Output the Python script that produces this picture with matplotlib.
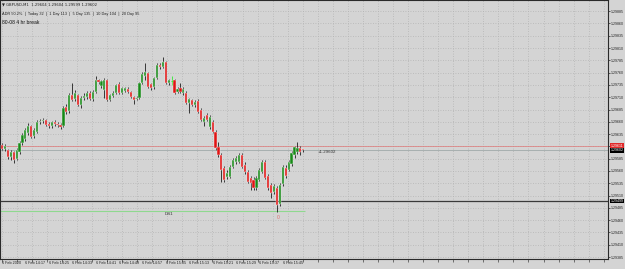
import numpy as np
import matplotlib
matplotlib.use("Agg")
import matplotlib.pyplot as plt

plt.rcParams["font.family"] = ["Liberation Sans", "DejaVu Sans"]

# ---------------- data (GBPUSD M1, 6 Feb 2020 14:09 .. 15:52) ----------------
opens = [1.29613, 1.29605, 1.29603, 1.29589, 1.29599, 1.29584, 1.29599, 1.29617, 1.29625, 1.29637,
         1.29652, 1.29631, 1.29639, 1.29660, 1.29662, 1.29664, 1.29656, 1.29652, 1.29660, 1.29656,
         1.29654, 1.29652, 1.29690, 1.29682, 1.29715, 1.29706, 1.29715, 1.29694, 1.29708, 1.29710,
         1.29719, 1.29706, 1.29721, 1.29745, 1.29733, 1.29725, 1.29745, 1.29704, 1.29712, 1.29719,
         1.29737, 1.29719, 1.29723, 1.29727, 1.29721, 1.29710, 1.29706, 1.29708, 1.29739, 1.29753,
         1.29759, 1.29737, 1.29731, 1.29749, 1.29775, 1.29771, 1.29782, 1.29739, 1.29743, 1.29745,
         1.29721, 1.29729, 1.29719, 1.29719, 1.29698, 1.29704, 1.29694, 1.29702, 1.29684, 1.29660,
         1.29674, 1.29649, 1.29660, 1.29639, 1.29609, 1.29593, 1.29566, 1.29548, 1.29548, 1.29568,
         1.29578, 1.29578, 1.29593, 1.29572, 1.29558, 1.29546, 1.29542, 1.29526, 1.29542, 1.29558,
         1.29578, 1.29550, 1.29532, 1.29517, 1.29526, 1.29493, 1.29534, 1.29566, 1.29562, 1.29574,
         1.29593, 1.29599, 1.29607, 1.29604]
closes = [1.29605, 1.29611, 1.29589, 1.29599, 1.29582, 1.29603, 1.29617, 1.29633, 1.29643, 1.29652,
          1.29629, 1.29643, 1.29660, 1.29662, 1.29664, 1.29654, 1.29652, 1.29660, 1.29656, 1.29654,
          1.29649, 1.29688, 1.29680, 1.29715, 1.29704, 1.29719, 1.29694, 1.29708, 1.29712, 1.29719,
          1.29706, 1.29721, 1.29745, 1.29741, 1.29743, 1.29745, 1.29704, 1.29715, 1.29719, 1.29735,
          1.29719, 1.29729, 1.29729, 1.29721, 1.29710, 1.29704, 1.29708, 1.29739, 1.29757, 1.29761,
          1.29731, 1.29729, 1.29749, 1.29775, 1.29771, 1.29782, 1.29739, 1.29745, 1.29743, 1.29719,
          1.29727, 1.29721, 1.29727, 1.29698, 1.29706, 1.29694, 1.29700, 1.29680, 1.29664, 1.29668,
          1.29664, 1.29670, 1.29639, 1.29607, 1.29593, 1.29562, 1.29542, 1.29556, 1.29568, 1.29582,
          1.29586, 1.29593, 1.29568, 1.29558, 1.29538, 1.29536, 1.29526, 1.29546, 1.29562, 1.29578,
          1.29546, 1.29526, 1.29515, 1.29530, 1.29491, 1.29532, 1.29568, 1.29550, 1.29578, 1.29597,
          1.29609, 1.29607, 1.29599, 1.29602]
highs = [1.29617, 1.29615, 1.29605, 1.29603, 1.29601, 1.29607, 1.29621, 1.29637, 1.29647, 1.29658,
         1.29654, 1.29647, 1.29664, 1.29666, 1.29668, 1.29666, 1.29660, 1.29662, 1.29664, 1.29660,
         1.29658, 1.29692, 1.29696, 1.29719, 1.29739, 1.29725, 1.29717, 1.29712, 1.29719, 1.29723,
         1.29723, 1.29725, 1.29753, 1.29747, 1.29745, 1.29749, 1.29747, 1.29717, 1.29723, 1.29737,
         1.29741, 1.29731, 1.29731, 1.29731, 1.29723, 1.29712, 1.29712, 1.29741, 1.29761, 1.29780,
         1.29761, 1.29739, 1.29751, 1.29780, 1.29780, 1.29792, 1.29784, 1.29747, 1.29753, 1.29747,
         1.29731, 1.29739, 1.29731, 1.29723, 1.29708, 1.29706, 1.29704, 1.29706, 1.29688, 1.29672,
         1.29678, 1.29674, 1.29664, 1.29643, 1.29619, 1.29597, 1.29570, 1.29562, 1.29572, 1.29586,
         1.29591, 1.29597, 1.29597, 1.29578, 1.29562, 1.29550, 1.29548, 1.29550, 1.29566, 1.29582,
         1.29582, 1.29554, 1.29536, 1.29534, 1.29530, 1.29536, 1.29572, 1.29572, 1.29582, 1.29601,
         1.29611, 1.29619, 1.29611, 1.29604]
lows = [1.29603, 1.29601, 1.29584, 1.29582, 1.29576, 1.29582, 1.29595, 1.29613, 1.29621, 1.29633,
        1.29627, 1.29627, 1.29637, 1.29656, 1.29658, 1.29652, 1.29647, 1.29647, 1.29652, 1.29649,
        1.29645, 1.29649, 1.29676, 1.29678, 1.29702, 1.29702, 1.29692, 1.29688, 1.29704, 1.29706,
        1.29704, 1.29702, 1.29719, 1.29737, 1.29729, 1.29708, 1.29702, 1.29702, 1.29710, 1.29717,
        1.29717, 1.29717, 1.29721, 1.29719, 1.29708, 1.29696, 1.29704, 1.29706, 1.29737, 1.29745,
        1.29729, 1.29725, 1.29727, 1.29747, 1.29767, 1.29769, 1.29737, 1.29735, 1.29735, 1.29717,
        1.29719, 1.29719, 1.29715, 1.29696, 1.29678, 1.29692, 1.29690, 1.29678, 1.29662, 1.29652,
        1.29662, 1.29645, 1.29637, 1.29603, 1.29589, 1.29538, 1.29538, 1.29544, 1.29546, 1.29566,
        1.29574, 1.29576, 1.29566, 1.29554, 1.29536, 1.29521, 1.29521, 1.29521, 1.29540, 1.29556,
        1.29544, 1.29521, 1.29505, 1.29513, 1.29477, 1.29489, 1.29530, 1.29546, 1.29560, 1.29570,
        1.29586, 1.29595, 1.29593, 1.29599]

time_labels = ["6 Feb 2020", "6 Feb 14:17", "6 Feb 14:25", "6 Feb 14:33", "6 Feb 14:41",
               "6 Feb 14:49", "6 Feb 14:57", "6 Feb 15:05", "6 Feb 15:13", "6 Feb 15:21",
               "6 Feb 15:29", "6 Feb 15:37", "6 Feb 15:45"]
price_ticks = [1.29385, 1.29410, 1.29435, 1.29460, 1.29485, 1.29510, 1.29535, 1.29560,
               1.29585, 1.29610, 1.29635, 1.29660, 1.29685, 1.29710, 1.29735, 1.29760,
               1.29785, 1.29810, 1.29835, 1.29860, 1.29885]
ask_price = 1.29611
bid_price = 1.29602
dark_level = 1.29499
ds1_level = 1.29479
header = "\u25BC GBPUSD,M1  1.29604 1.29604 1.29599 1.29602"
adr_text = "ADR 50.2%  |  Today 32  |  1 Day 113  |  5 Day 135  |  10 Day 104  |  20 Day 95"
note_text = "80-08 4 hr break"

# ---------------- figure ----------------
W, H = 625, 269
BG = "#d4d4d4"
fig = plt.figure(figsize=(W / 100, H / 100), dpi=100)
fig.patch.set_facecolor(BG)
ax = fig.add_axes([0 / W, (H - 259) / H, 608 / W, 259 / H])
ax.set_facecolor(BG)

X0_PX, BAR_PX = 2.0, 2.925
ax.set_xlim((0 - X0_PX) / BAR_PX, (608 - X0_PX) / BAR_PX)
ax.set_ylim(1.293811, 1.299076)

n = len(opens)
idx = np.arange(n)
o = np.array(opens); c = np.array(closes); hi = np.array(highs); lo = np.array(lows)

# grid
vgrid = (np.arange(1.7, 608, 15.05) - X0_PX) / BAR_PX
ax.set_xticks(vgrid)
ax.set_xticklabels([])
ax.set_yticks(price_ticks)
ax.set_yticklabels([f"{p:.5f}" for p in price_ticks])
ax.yaxis.tick_right()
ax.tick_params(axis="y", labelsize=2.6, length=1.5, width=0.5, pad=0.8, colors="#222222")
ax.tick_params(axis="x", length=2, width=0.5, colors="#444444")
ax.grid(True, ls=(0, (1, 2)), color="#b4b4b4", lw=0.6)
ax.set_axisbelow(True)
for s in ax.spines.values():
    s.set_color("#2a2a2a")
    s.set_linewidth(0.8)

# horizontal levels
ax.axhline(ask_price, color="#e07878", lw=0.5, zorder=1.5)
ax.axhline(bid_price, color="#a0aaaa", lw=0.6, zorder=1.5)
ax.axhline(dark_level, color="#3a3a3a", lw=0.9, zorder=1.5)
ax.hlines(ds1_level, ax.get_xlim()[0], n - 0.4, color="#8fd88f", lw=0.8, zorder=1.5)

# candles
bull = c > o
bear = c < o
doji = c == o
wick_col = np.where(doji, "#33ee33", "#1e1e1e")
ax.vlines(idx, lo, hi, colors=wick_col, lw=0.6, zorder=3)
body_h = np.abs(c - o)
body_b = np.minimum(o, c)
ax.bar(idx[bull], body_h[bull], bottom=body_b[bull], width=0.75,
       color="#188a18", edgecolor="#f4f4f4", linewidth=0.3, zorder=4)
ax.bar(idx[bear], body_h[bear], bottom=body_b[bear], width=0.75,
       color="#e01414", edgecolor="#f4f4f4", linewidth=0.3, zorder=4)
ax.hlines(o[doji], idx[doji] - 0.36, idx[doji] + 0.36, colors="#33ee33", lw=0.6, zorder=4)

# right price boxes
ytr = ax.get_yaxis_transform()
for price, fc, va in [(ask_price, "#e02828", "bottom"), (bid_price, "#000000", "top"),
                      (dark_level, "#000000", "center")]:
    ax.text(1.004, price, f"{price:.5f}", transform=ytr, ha="left", va="center",
            fontsize=2.6, color="white", clip_on=False, zorder=6,
            bbox=dict(boxstyle="square,pad=0.12", fc=fc, ec="none"))

# time labels
xtr = ax.get_xaxis_transform()
for k, lab in enumerate(time_labels):
    ax.text(k * 8, -0.016, lab, transform=xtr, ha="left", va="center",
            fontsize=2.7, color="#222222", clip_on=False)

# chart annotations
ax.text((165 - X0_PX) / BAR_PX, ds1_level - 0.00006, "DS1", ha="left", va="center",
        fontsize=3.2, color="#333333")
ax.text((278 - X0_PX) / BAR_PX, 1.29466, "0", ha="center", va="center",
        fontsize=3.6, color="#e07070")
ax.text((318 - X0_PX) / BAR_PX, bid_price - 0.00003, "+1.29602", ha="left", va="center",
        fontsize=3.2, color="#333333")

# header texts
def fx(px):
    return px / W

def fy(py):
    return 1 - py / H

fig.text(fx(2), fy(4.5), header, fontsize=2.7, color="#222222", va="center", ha="left",
         family=["DejaVu Sans"])
fig.text(fx(2), fy(14.5), adr_text, fontsize=2.8, color="#222222", va="center", ha="left")
fig.text(fx(2), fy(22.5), note_text, fontsize=3.6, color="#111111", va="center", ha="left")

fig.savefig("out.png", dpi=100, facecolor=BG)
